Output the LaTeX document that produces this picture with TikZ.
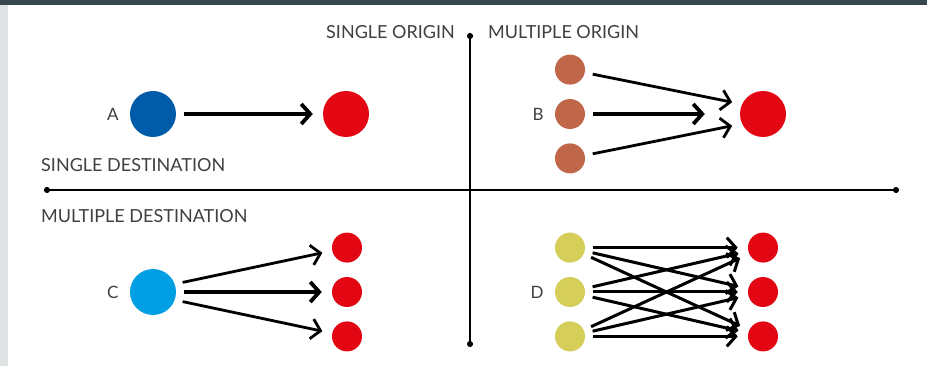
\documentclass[tikz,border=0pt]{standalone}
\usepackage{fontspec}
\setmainfont{Lato}
\usetikzlibrary{positioning,arrows.meta}
\definecolor{darkblue}{HTML}{005CA9}
\definecolor{lightblue}{HTML}{009FE3}
\definecolor{destred}{HTML}{E30613}
\definecolor{origbrown}{HTML}{C0674A}
\definecolor{origyellow}{HTML}{D5CE58}
\definecolor{textgray}{HTML}{404040}
\definecolor{topband}{HTML}{37474F}
\definecolor{sideband}{HTML}{DFE3E3}
\begin{document}
\begin{tikzpicture}[x=1pt, y=-1pt, big/.style = {circle, fill, minimum size=46pt, inner sep=0}, small/.style = {circle, fill, minimum size=30pt, inner sep=0}, txt/.style = {text=textgray, font=\fontsize{18}{21}\selectfont, inner sep=0}, lbl/.style = {text=textgray, font=\fontsize{17}{20}\selectfont, inner sep=0}, flow/.style = {line width=2.8pt, -{Straight Barb[length=9pt,width=20pt]}, shorten <=8pt, shorten >=10pt}, axis/.style = {line width=1.5pt, {Circle[length=6pt]}-{Circle[length=6pt]}}]
\useasboundingbox (0,0) rectangle (927,366);
\fill[white] (0,0) rectangle (927,366);
\fill[sideband] (0,0) rectangle (8,366);
\fill[topband] (0,0) rectangle (927,5);
\coordinate (west) at (44,190);
\coordinate (east) at (899,190);
\coordinate (north) at (470,33);
\coordinate (south) at (470,347);
\draw[axis] (west) -- (east);
\draw[axis] (north) -- (south);
\node[txt, anchor=east] (so) at (455,32) {SINGLE ORIGIN};
\node[txt, anchor=west] (mo) at (488,32) {MULTIPLE ORIGIN};
\node[txt, anchor=west] (sd) at (41,165) {SINGLE DESTINATION};
\node[txt, anchor=west] (md) at (41,216) {MULTIPLE DESTINATION};
\node[big, fill=darkblue] (a1) at (153,114) {};
\node[big, fill=destred] (a2) at (346,114) {};
\node[lbl] (la) [left=11pt of a1] {A};
\draw[flow, line width=3.8pt] (a1) -- (a2);
\node[small, fill=origbrown] (b2) at (570,114) {};
\node[small, fill=origbrown] (b1) [above=14pt of b2] {};
\node[small, fill=origbrown] (b3) [below=14pt of b2] {};
\node[big, fill=destred] (b4) at (763,114) {};
\node[lbl] (lb) [left=11pt of b2] {B};
\draw[flow] (b1) -- (b4.155);
\draw[flow, line width=3.8pt, shorten >=35pt] (b2) -- (b4);
\draw[flow] (b3) -- (b4.205);
\node[big, fill=lightblue] (c0) at (153,292) {};
\node[small, fill=destred] (c2) at (347,292) {};
\node[small, fill=destred] (c1) [above=14pt of c2] {};
\node[small, fill=destred] (c3) [below=14pt of c2] {};
\node[lbl] (lc) [left=11pt of c0] {C};
\draw[flow] (c0.20) -- (c1);
\draw[flow, line width=3.8pt] (c0) -- (c2);
\draw[flow] (c0.-20) -- (c3);
\node[small, fill=origyellow] (d2) at (570,292) {};
\node[small, fill=origyellow] (d1) [above=14pt of d2] {};
\node[small, fill=origyellow] (d3) [below=14pt of d2] {};
\node[small, fill=destred] (e2) at (763,292) {};
\node[small, fill=destred] (e1) [above=14pt of e2] {};
\node[small, fill=destred] (e3) [below=14pt of e2] {};
\node[lbl] (ld) [left=11pt of d2] {D};
\foreach \i in {1,2,3}
  \foreach \j in {1,2,3}
    \draw[flow, line width=3pt] (d\i) -- (e\j);
\end{tikzpicture}
\end{document}
